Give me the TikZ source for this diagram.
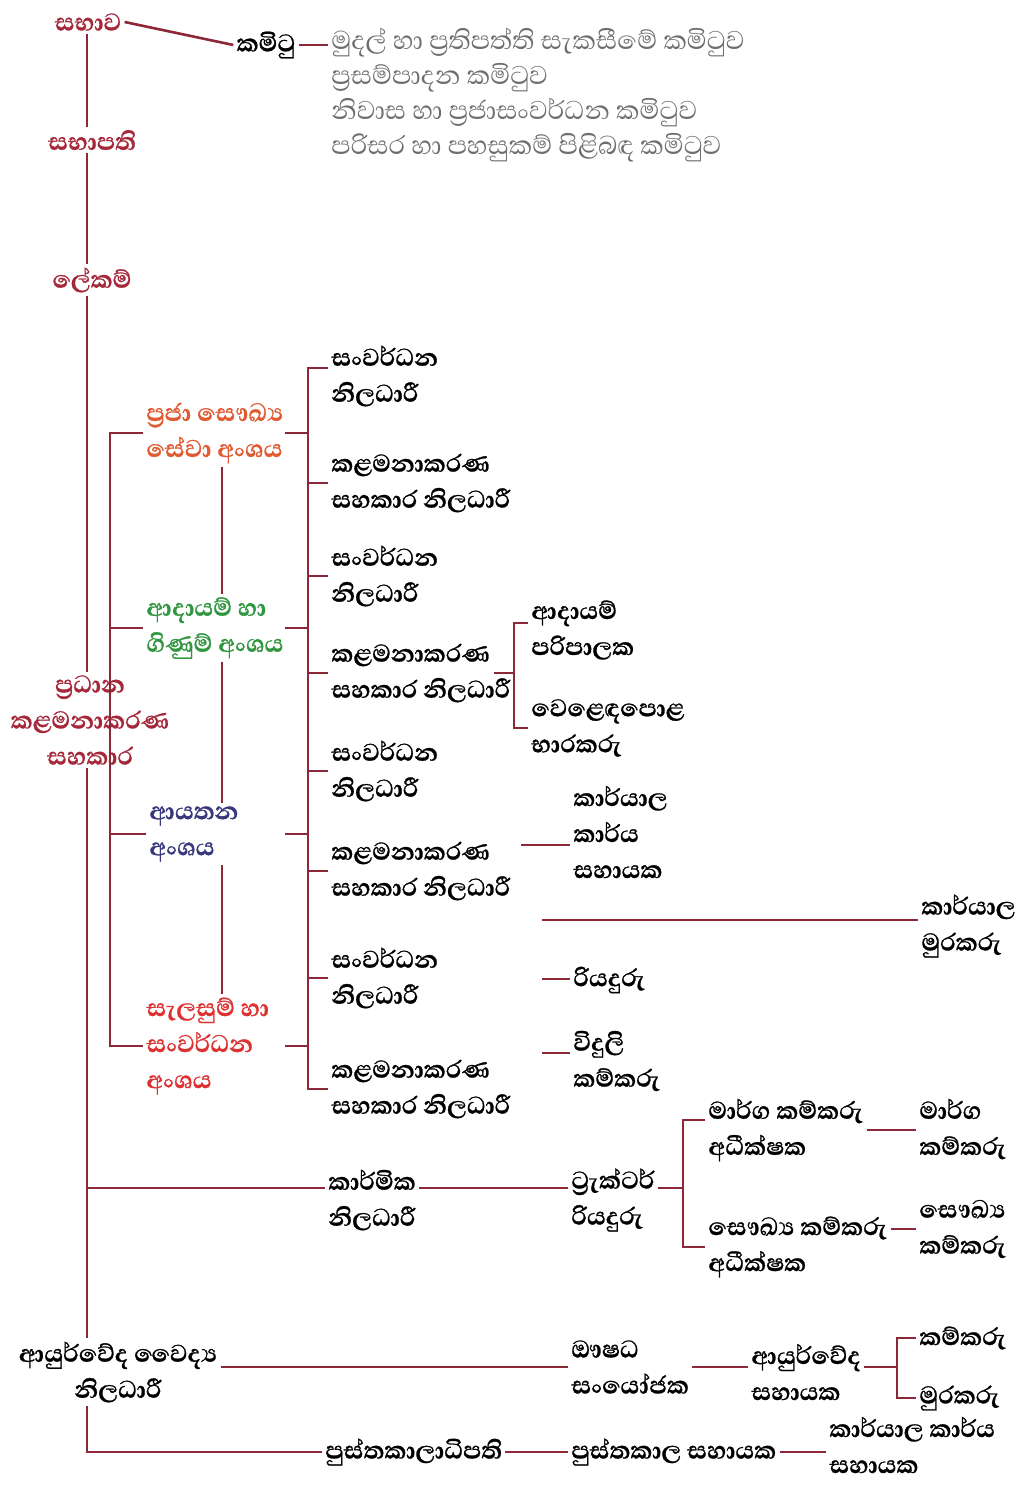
\documentclass[tikz,border=0pt]{standalone}
\usepackage{fontspec}
\newfontfamily\sinhala[Script=Sinhala, BoldFeatures={FakeBold=0.8}]{Abhaya Libre}
\definecolor{linered}{RGB}{140,40,55}
\definecolor{headred}{RGB}{165,40,58}
\definecolor{divorange}{RGB}{224,90,50}
\definecolor{divgreen}{RGB}{50,150,65}
\definecolor{divnavy}{RGB}{55,55,125}
\definecolor{divred}{RGB}{222,50,50}
\definecolor{listgray}{RGB}{110,110,110}
\begin{document}
\begin{tikzpicture}[x=0.5pt,y=-0.5pt,
    every node/.style={inner sep=1.5pt, align=left},
    lbl/.style={font=\sinhala\bfseries\fontsize{15.5}{18}\selectfont, anchor=west},
    head/.style={font=\sinhala\bfseries\fontsize{15.5}{18}\selectfont, text=headred},
    lnk/.style={draw=linered, line width=1.3pt}]
  \useasboundingbox[fill=white] (0,0) rectangle (1017,1486);

  \coordinate (spine) at (87,0);
  \coordinate (lb) at (110,0);
  \coordinate (mid) at (222,0);
  \coordinate (dr) at (285,0);
  \coordinate (rb) at (308,0);

  % top
  \node[head] (sabhava) at (88,22) {සභාව};
  \node[lbl, anchor=center] (kamitu) at (266,45) {කමිටු};
  \node[lbl, font=\sinhala\fontsize{16.5}{17.5}\selectfont, text=listgray] (list) at (328,95)
    {මුදල් හා ප්‍රතිපත්ති සැකසීමේ කමිටුව\\ප්‍රසම්පාදන කමිටුව\\නිවාස හා ප්‍රජාසංවර්ධන කමිටුව\\පරිසර හා පහසුකම් පිළිබඳ කමිටුව};
  \node[head] (sabhapati) at (92,140) {සභාපති};
  \node[head] (lekam) at (92,280) {ලේකම්};
  \node[head, align=center] (pradhana) at (90,720) {ප්‍රධාන\\කළමනාකරණ\\සහකාර};

  % divisions
  \node[lbl, text=divorange] (d1) at (143,433) {ප්‍රජා සෞඛ්‍ය\\සේවා අංශය};
  \node[lbl, text=divgreen] (d2) at (143,628) {ආදායම් හා\\ගිණුම් අංශය};
  \node[lbl, text=divnavy] (d3) at (146,834) {ආයතන\\අංශය};
  \node[lbl, text=divred] (d4) at (143,1046) {සැලසුම් හා\\සංවර්ධන\\අංශය};

  % officers
  \node[lbl] (o1) at (328,376) {සංවර්ධන\\නිලධාරී};
  \node[lbl] (o2) at (328,483) {කළමනාකරණ\\සහකාර නිලධාරී};
  \node[lbl] (o3) at (328,576) {සංවර්ධන\\නිලධාරී};
  \node[lbl] (o4) at (328,673) {කළමනාකරණ\\සහකාර නිලධාරී};
  \node[lbl] (o5) at (328,771) {සංවර්ධන\\නිලධාරී};
  \node[lbl] (o6) at (328,871) {කළමනාකරණ\\සහකාර නිලධාරී};
  \node[lbl] (o7) at (328,978) {සංවර්ධන\\නිලධාරී};
  \node[lbl] (o8) at (328,1089) {කළමනාකරණ\\සහකාර නිලධාරී};

  \node[lbl] (p1) at (528,630) {ආදායම්\\පරිපාලක};
  \node[lbl] (p2) at (528,728) {වෙළෙඳපොළ\\භාරකරු};
  \node[lbl] (k1) at (570,832) {කාර්යාල\\කාර්ය\\සහායක};
  \node[lbl] (k2) at (918,926) {කාර්යාල\\මුරකරු};
  \node[lbl] (k3) at (570,980) {රියදුරු};
  \node[lbl] (k4) at (570,1061) {විදුලි\\කම්කරු};

  % karmika row
  \node[lbl] (km) at (325,1200) {කාර්මික\\නිලධාරී};
  \node[lbl] (tr) at (568,1200) {ට්‍රැක්ටර්\\රියදුරු};
  \node[lbl] (m1) at (705,1130) {මාර්ග කම්කරු\\අධීක්ෂක};
  \node[lbl] (s1) at (705,1247) {සෞඛ්‍ය කම්කරු\\අධීක්ෂක};
  \node[lbl] (m2) at (916,1129) {මාර්ග\\කම්කරු};
  \node[lbl] (s2) at (916,1229) {සෞඛ්‍ය\\කම්කරු};

  % ayurveda row
  \node[lbl, anchor=center, align=center] (ayu) at (118,1372) {ආයුර්වේද වෛද්‍ය\\නිලධාරී};
  \node[lbl] (osh) at (568,1367) {ඖෂධ\\සංයෝජක};
  \node[lbl] (ays) at (748,1372) {ආයුර්වේද\\සහායක};
  \node[lbl] (kam) at (916,1338) {කම්කරු};
  \node[lbl] (mur) at (916,1398) {මුරකරු};

  % library row
  \node[lbl] (pus) at (322,1452) {පුස්තකාලාධිපති};
  \node[lbl] (pss) at (568,1452) {පුස්තකාල සහායක};
  \node[lbl] (kks) at (826,1445) {කාර්යාල කාර්ය\\සහායක};

  % lines
  \draw[lnk] (sabhava.east) -- (kamitu.west);
  \draw[lnk] (kamitu.east) -- (kamitu.east -| list.west);
  \draw[lnk] (sabhava.south -| spine) -- (sabhapati.north -| spine);
  \draw[lnk] (sabhapati.south -| spine) -- (lekam.north -| spine);
  \draw[lnk] (lekam.south -| spine) -- (pradhana.north -| spine);
  \draw[lnk] (pradhana.south -| spine) -- (ayu.north -| spine);
  \draw[lnk] (ayu.south -| spine) -- (pus.west -| spine) -- (pus.west);
  \coordinate (krow) at (0,1188);
  \draw[lnk] (spine |- krow) -- (km.west |- krow);

  \draw[lnk] (d1.west) -- (d1.west -| lb) -- (d4.west -| lb) -- (d4.west);
  \draw[lnk] (d2.west -| lb) -- (d2.west);
  \draw[lnk] (d3.west -| lb) -- (d3.west);
  \draw[lnk, line width=1pt] (d1.south -| mid) -- (d2.north -| mid);
  \draw[lnk, line width=1pt] (d2.south -| mid) -- (d3.north -| mid);
  \draw[lnk, line width=1pt] (d3.south -| mid) -- (d4.north -| mid);
  \foreach \d in {d1,d2,d3,d4}
    \draw[lnk] (\d -| dr) -- (\d -| rb);

  \draw[lnk] ([yshift=4pt]o1.west) -- ([yshift=4pt]o1.west -| rb) -- (o8.west -| rb) -- (o8.west);
  \foreach \o in {o2,o3,o4,o5,o6,o7}
    \draw[lnk] (\o.west -| rb) -- (\o.west);

  \coordinate (sb) at (514,0);
  \coordinate (sbl) at (494,0);
  \draw[lnk] (o4 -| sbl) -- (o4 -| sb);
  \draw[lnk] ([yshift=3.5pt]p1.west) -- ([yshift=3.5pt]p1.west -| sb) -- (p2.west -| sb) -- (p2.west);

  \coordinate (l6) at (521,845);
  \coordinate (l9) at (542,920);
  \coordinate (l7) at (542,979);
  \coordinate (l8) at (542,1053);
  \draw[lnk] (l6) -- (l6 -| k1.west);
  \draw[lnk] (l9) -- (l9 -| k2.west);
  \draw[lnk] (l7) -- (l7 -| k3.west);
  \draw[lnk] (l8) -- (l8 -| k4.west);

  \coordinate (tb) at (683,0);
  \draw[lnk] (km.east |- krow) -- (tr.west |- krow);
  \draw[lnk] (tr.east |- krow) -- (tb |- krow);
  \draw[lnk] ([yshift=5pt]m1.west) -- ([yshift=5pt]m1.west -| tb) -- (s1.west -| tb) -- (s1.west);
  \draw[lnk] (m1.east) -- (m1.east -| m2.west);
  \draw[lnk] (s2.west -| s1.east) -- (s2.west);

  \coordinate (ab) at (897,0);
  \draw[lnk] (osh.west -| ayu.east) -- (osh.west);
  \draw[lnk] (osh.east) -- (osh.east -| ays.west);
  \draw[lnk] (ays.east |- osh) -- (ab |- osh);
  \draw[lnk] (kam.west) -- (kam.west -| ab) -- (mur.west -| ab) -- (mur.west);

  \draw[lnk] (pus.east) -- (pss.west);
  \draw[lnk] (pss.east) -- (pss.east -| kks.west);
\end{tikzpicture}
\end{document}
